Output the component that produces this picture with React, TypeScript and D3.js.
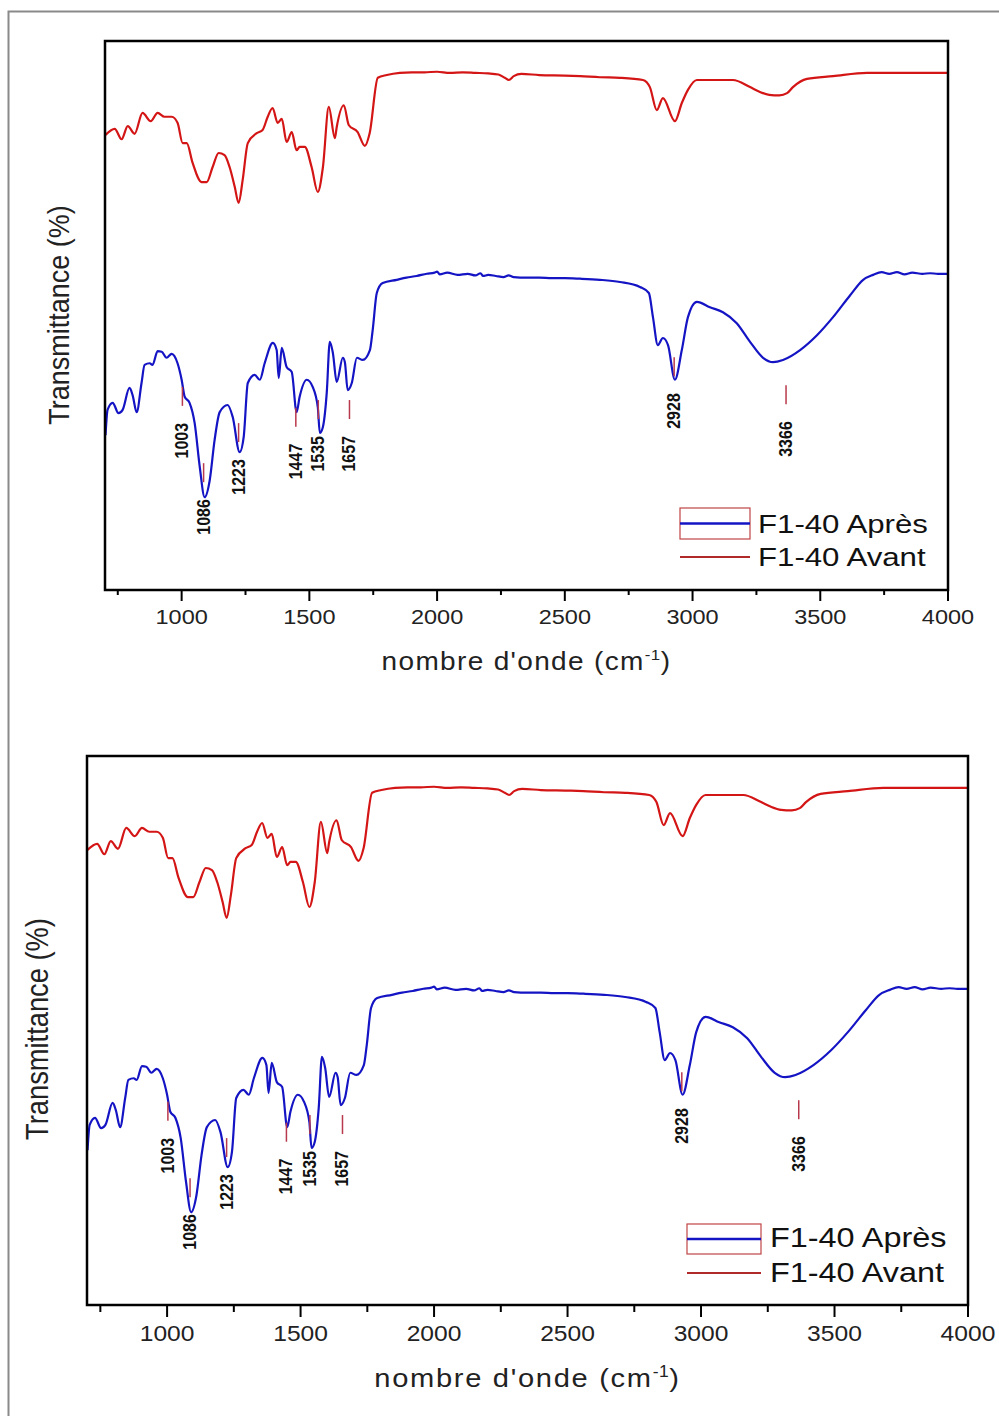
import React from 'react';
import * as d3 from 'd3';

// ---- Data ----
const avantWn = [702, 738, 765, 789, 816, 847, 879, 906, 933, 961, 984, 1004, 1020, 1043, 1078, 1098, 1121, 1145, 1168, 1188, 1208, 1223, 1239, 1259, 1294, 1317, 1337, 1356, 1376, 1392, 1411, 1431, 1450, 1462, 1482, 1509, 1533, 1553, 1576, 1600, 1607, 1635, 1654, 1689, 1717, 1736, 1768, 1803, 1854, 1900, 1950, 2000, 2050, 2100, 2150, 2200, 2240, 2265, 2281, 2300, 2330, 2400, 2500, 2560, 2637, 2716, 2806, 2833, 2860, 2884, 2931, 2958, 2982, 3017, 3158, 3225, 3260, 3300, 3340, 3370, 3393, 3448, 3550, 3683, 4000];
const avantT = [82.9, 84.0, 82.1, 84.5, 83.1, 86.9, 85.4, 86.9, 86.2, 86.2, 85.1, 81.4, 81.4, 77.8, 74.3, 74.3, 77.0, 79.6, 79.2, 77.0, 73.4, 70.5, 74.7, 81.4, 83.2, 83.8, 86.2, 87.8, 85.1, 85.8, 81.6, 83.4, 80.1, 80.7, 80.7, 77.0, 72.5, 77.0, 88.0, 82.3, 84.3, 88.3, 84.7, 83.4, 80.9, 83.2, 93.3, 93.8, 94.2, 94.3, 94.3, 94.4, 94.2, 94.3, 94.2, 94.1, 93.9, 93.3, 92.9, 93.6, 94.0, 93.8, 93.7, 93.6, 93.4, 93.3, 92.9, 91.6, 87.4, 89.6, 85.4, 88.7, 91.1, 92.9, 92.9, 91.6, 90.8, 90.2, 90.1, 90.5, 91.6, 93.1, 93.6, 94.2, 94.2];

const apresWn = [702, 710, 730, 753, 769, 796, 808, 824, 843, 855, 875, 886, 906, 922, 941, 961, 984, 1000, 1012, 1031, 1051, 1071, 1090, 1110, 1129, 1149, 1180, 1200, 1227, 1243, 1259, 1286, 1306, 1325, 1357, 1372, 1380, 1392, 1411, 1431, 1450, 1462, 1490, 1513, 1533, 1541, 1553, 1568, 1580, 1592, 1607, 1631, 1639, 1650, 1666, 1686, 1709, 1737, 1748, 1764, 1787, 1842, 1880, 1920, 1960, 1990, 2000, 2010, 2040, 2080, 2120, 2150, 2170, 2180, 2200, 2230, 2260, 2280, 2300, 2350, 2400, 2450, 2500, 2560, 2637, 2716, 2794, 2829, 2845, 2864, 2884, 2904, 2931, 2958, 2982, 3017, 3068, 3119, 3173, 3225, 3276, 3315, 3354, 3421, 3487, 3550, 3617, 3668, 3707, 3740, 3770, 3800, 3830, 3860, 3900, 3930, 3960, 4000];
const apresT = [28.2, 32.8, 34.1, 32.2, 32.8, 36.8, 35.5, 32.4, 37.7, 41.0, 41.3, 41.0, 43.5, 43.4, 42.3, 43.0, 41.3, 38.3, 35.2, 34.1, 30.4, 22.4, 16.9, 20.0, 27.3, 32.4, 33.7, 31.5, 25.1, 27.9, 37.7, 39.2, 38.3, 41.3, 45.0, 43.7, 38.6, 44.1, 40.6, 39.7, 32.4, 35.2, 38.3, 37.0, 33.3, 28.6, 29.7, 35.9, 45.2, 43.2, 37.9, 42.3, 41.5, 36.4, 37.7, 42.3, 41.9, 43.7, 47.4, 54.1, 55.9, 56.5, 56.9, 57.2, 57.6, 57.8, 58.0, 57.5, 57.8, 57.4, 57.6, 57.3, 57.7, 57.2, 57.4, 57.2, 57.0, 57.3, 57.0, 56.9, 56.9, 56.8, 56.8, 56.7, 56.5, 56.1, 55.2, 54.1, 49.7, 44.6, 45.9, 44.6, 38.3, 43.7, 49.7, 52.5, 51.5, 50.6, 48.6, 45.2, 42.3, 41.5, 41.9, 43.7, 46.4, 49.7, 53.7, 56.5, 57.4, 57.9, 57.6, 57.9, 57.5, 57.8, 57.6, 57.7, 57.6, 57.6];

const peakWn = [1003, 1086, 1223, 1447, 1535, 1657, 2928, 3366];
const peakLabels = ['1003', '1086', '1223', '1447', '1535', '1657', '2928', '3366'];
const peakMarkT = [37.0, 23.1, 30.4, 33.2, 34.6, 34.6, 42.4, 37.3];

const majorTicks = [1000, 1500, 2000, 2500, 3000, 3500, 4000];
const minorTicks = [750, 1250, 1750, 2250, 2750, 3250, 3750];
const xDomain = [700, 4000];
const yDomain = [0, 100];

const legendLabels = ['F1-40 Après', 'F1-40 Avant'];
const xTitleMain = "nombre d'onde (cm";
const xTitleSup = '-1';
const yTitle = 'Transmittance (%)';

// ---- Layout ----
const SX = 1.12; // horizontal stretch of the reference's glyphs
const panels = [
  {
    id: 'p1', left: 105, top: 41, right: 948, bottom: 590,
    tickFs: 21, tickDy: 34, majLen: 11, minLen: 5,
    titleY: 670, titleFs: 25, titleLs: 1.2,
    yTitleX: 60, yTitleY: 315, yTitleFs: 27,
    legBox: [680, 508, 750, 539], legRedY: 557, legTextX: 758,
    legBase: [533, 566], legFs: 26, legSx: 1.2,
  },
  {
    id: 'p2', left: 87, top: 756, right: 968, bottom: 1305,
    tickFs: 22, tickDy: 36, majLen: 12, minLen: 7,
    titleY: 1387, titleFs: 26, titleLs: 1.5,
    yTitleX: 39, yTitleY: 1029, yTitleFs: 27.3,
    legBox: [687, 1224, 761, 1254], legRedY: 1273, legTextX: 770,
    legBase: [1247, 1282], legFs: 27, legSx: 1.2,
  },
];

const RED = '#d41515';
const BLUE = '#1414c4';
const MARK = '#b8394c';
const FONT = 'Liberation Sans, Arial, Helvetica, sans-serif';

function Panel({ p }: { p: any }) {
  const x = d3.scaleLinear().domain(xDomain).range([p.left, p.right]);
  const y = d3.scaleLinear().domain(yDomain).range([p.bottom, p.top]);
  const mk = (wn: number[], t: number[]) =>
    d3
      .line<number>()
      .x((d) => x(d))
      .y((_, i) => y(t[i]))
      .curve(d3.curveMonotoneX)(wn) as string;
  const clipId = 'clip-' + p.id;
  const cx = (p.left + p.right) / 2;
  return (
    <g>
      <defs>
        <clipPath id={clipId}>
          <rect x={p.left} y={p.top} width={p.right - p.left} height={p.bottom - p.top} />
        </clipPath>
      </defs>
      <g clipPath={`url(#${clipId})`}>
        <path d={mk(avantWn, avantT)} fill="none" stroke={RED} strokeWidth={2.2} strokeLinejoin="round" />
        <path d={mk(apresWn, apresT)} fill="none" stroke={BLUE} strokeWidth={2.2} strokeLinejoin="round" />
      </g>
      {/* peak markers */}
      {peakWn.map((wn, i) => {
        const px = x(wn);
        const py = y(peakMarkT[i]);
        return (
          <g key={'pk' + i}>
            <line x1={px} x2={px} y1={py} y2={py + 19} stroke={MARK} strokeWidth={1.5} />
            <g transform={`translate(${px + 6},${py + 36}) scale(${SX},1) rotate(-90)`}>
              <text
                textAnchor="end"
                fontFamily={FONT}
                fontWeight="bold"
                fontSize={16}
                fill="#111"
              >
                {peakLabels[i]}
              </text>
            </g>
          </g>
        );
      })}
      {/* frame */}
      <rect
        x={p.left}
        y={p.top}
        width={p.right - p.left}
        height={p.bottom - p.top}
        fill="none"
        stroke="#000"
        strokeWidth={2.5}
      />
      {/* ticks */}
      {majorTicks.map((t) => (
        <g key={'mj' + t}>
          <line x1={x(t)} x2={x(t)} y1={p.bottom} y2={p.bottom + p.majLen} stroke="#000" strokeWidth={2} />
          <g transform={`translate(${x(t)},${p.bottom + p.tickDy}) scale(${SX},1)`}>
            <text textAnchor="middle" fontFamily={FONT} fontSize={p.tickFs} fill="#222">
              {t}
            </text>
          </g>
        </g>
      ))}
      {minorTicks.map((t) => (
        <line key={'mn' + t} x1={x(t)} x2={x(t)} y1={p.bottom} y2={p.bottom + p.minLen} stroke="#000" strokeWidth={2} />
      ))}
      {/* x title */}
      <g transform={`translate(${cx},${p.titleY}) scale(${SX},1)`}>
        <text
          textAnchor="middle"
          fontFamily={FONT}
          fontSize={p.titleFs}
          letterSpacing={p.titleLs}
          fill="#222"
        >
          {xTitleMain}
          <tspan fontSize={p.titleFs * 0.6} dy={-10} letterSpacing={0.5}>
            {xTitleSup}
          </tspan>
          <tspan dy={10}>)</tspan>
        </text>
      </g>
      {/* y title */}
      <g transform={`translate(${p.yTitleX + 9},${p.yTitleY}) scale(${SX},1) rotate(-90)`}>
        <text textAnchor="middle" fontFamily={FONT} fontSize={p.yTitleFs} fill="#222">
          {yTitle}
        </text>
      </g>
      {/* legend */}
      <rect
        x={p.legBox[0]}
        y={p.legBox[1]}
        width={p.legBox[2] - p.legBox[0]}
        height={p.legBox[3] - p.legBox[1]}
        fill="none"
        stroke="#c04545"
        strokeWidth={1.2}
      />
      <line
        x1={p.legBox[0]}
        x2={p.legBox[2]}
        y1={(p.legBox[1] + p.legBox[3]) / 2}
        y2={(p.legBox[1] + p.legBox[3]) / 2}
        stroke={BLUE}
        strokeWidth={2.5}
      />
      <line x1={p.legBox[0]} x2={p.legBox[2]} y1={p.legRedY} y2={p.legRedY} stroke="#b02a2a" strokeWidth={2.2} />
      {legendLabels.map((l, i) => (
        <g key={'lg' + i} transform={`translate(${p.legTextX},${p.legBase[i]}) scale(${p.legSx},1)`}>
          <text fontFamily={FONT} fontSize={p.legFs} fill="#111">
            {l}
          </text>
        </g>
      ))}
    </g>
  );
}

export default function App() {
  return (
    <svg
      width={999}
      height={1416}
      style={{ position: 'absolute', left: 0, top: 0, background: '#fff' }}
      xmlns="http://www.w3.org/2000/svg"
    >
      <rect x={0} y={0} width={999} height={1416} fill="#fff" />
      <rect x={8.5} y={11.5} width={1100} height={1500} fill="none" stroke="#8a8a8a" strokeWidth={2} />
      {panels.map((p) => (
        <Panel key={p.id} p={p} />
      ))}
    </svg>
  );
}
